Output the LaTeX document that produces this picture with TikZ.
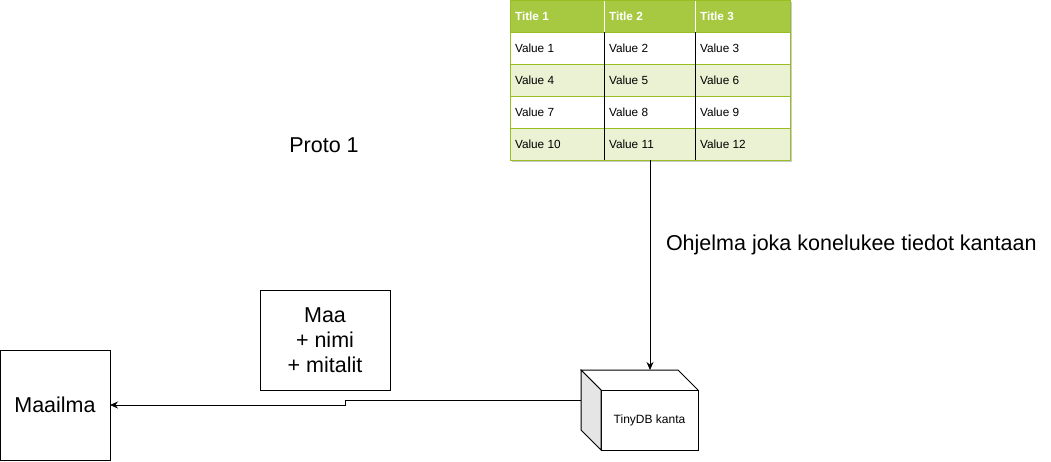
\documentclass[tikz,border=0pt]{standalone}
\usepackage{fontspec}
\setmainfont{Liberation Sans}
\usetikzlibrary{arrows.meta}
\definecolor{hdrgreen}{HTML}{A7C942}
\definecolor{rowgreen}{HTML}{EAF2D3}
\definecolor{linegreen}{HTML}{98BF21}
\begin{document}
\begin{tikzpicture}[x=1pt, y=-1pt, line width=1pt, every node/.style={outer sep=0pt},
    box/.style={draw, align=center, font=\fontsize{21.5}{25}\selectfont},
    celltext/.style={anchor=west, inner sep=0pt, font=\fontsize{11.8}{14}\selectfont},
    arr/.style={-{Stealth[length=8pt, width=7pt]}}]
        \useasboundingbox (0,0) rectangle (1051,461);
        \fill[black!20] (512,2) rectangle (792,162);
        \fill[hdrgreen] (510,0) rectangle (790,32);
        \foreach \r/\fc in {1/white, 2/rowgreen, 3/white, 4/rowgreen}
            \fill[\fc] (510,32*\r) rectangle (790,32*\r+32);
        \foreach \c/\xa in {1/510, 2/604, 3/695}{
            \node[celltext, text=white, font=\fontsize{11.8}{14}\selectfont\bfseries] (t\c) at (\xa+5,16) {Title \c};
            \foreach \r in {1,...,4}{
                \pgfmathtruncatemacro\n{3*(\r-1)+\c}
                \node[celltext] (v\n) at (\xa+5,32*\r+16) {Value \n};
            }
        }
        \foreach \r in {1,...,4}
            \draw[linegreen] (510,32*\r) -- (790,32*\r);
        \foreach \xa in {604, 695}{
            \draw[white] (\xa,0) -- (\xa,32);
            \draw[black] (\xa,32) -- (\xa,160);
        }
        \node[draw=linegreen, minimum width=280pt, minimum height=160pt, anchor=north west] (tbl) at (510,0) {};

        \node[font=\fontsize{21.5}{25}\selectfont] (proto) at (324,145) {Proto 1};
        \node[font=\fontsize{21.5}{25}\selectfont, anchor=west, inner sep=0pt] (prog) at (666,245) {Ohjelma joka konelukee tiedot kantaan};

        \node[draw, minimum width=97pt, minimum height=60pt, font=\fontsize{12}{14}\selectfont] (db) at (649.5,420) {TinyDB kanta};
        \draw[line join=miter] (db.north west) -- ++(-20,-20) coordinate (dbback) -- ++(97,0) -- (db.north east);
        \filldraw[fill=black!10, line join=miter] (db.north west) -- (dbback) -- ++(0,60) -- (db.south west) -- cycle;
        \coordinate (dbleft) at ([yshift=-30pt]dbback);

        \node[box, minimum width=110pt, minimum height=110pt] (world) at (55,405) {Maailma};
        \node[box, minimum width=130pt, minimum height=100pt] (maa) at (325,340) {Maa\\+ nimi\\+ mitalit};

        \draw[arr] (tbl.south) -- (tbl.south |- dbback);
        \draw[arr] (dbleft) -- ++(-236,0) |- (world.east);
    \end{tikzpicture}
\end{document}
